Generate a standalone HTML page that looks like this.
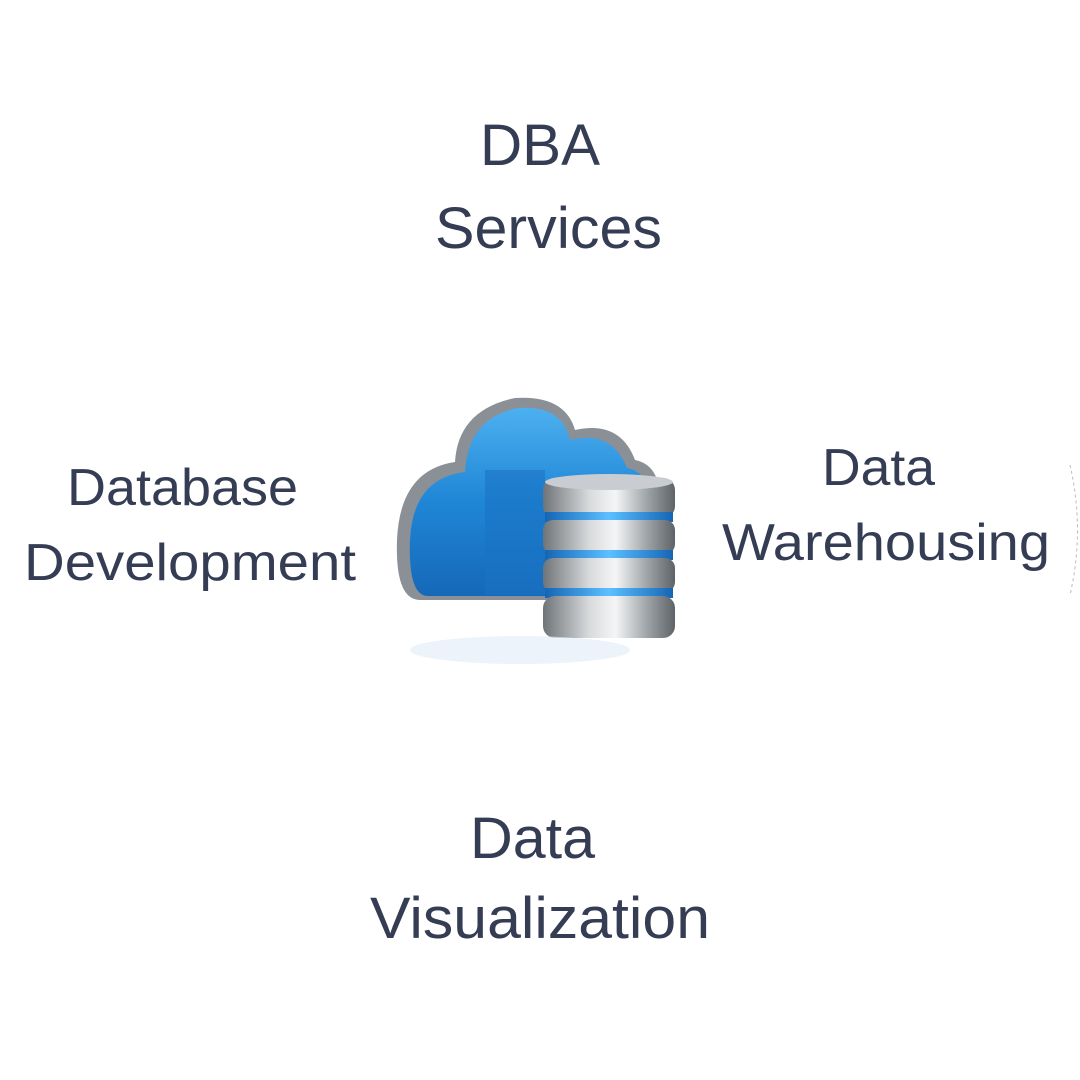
<!DOCTYPE html>
<html><head><meta charset="utf-8"><style>
html,body{margin:0;padding:0;background:#fff;}
svg{display:block}
text{font-family:"Liberation Sans",sans-serif;fill:#353d55;}
</style></head><body>
<svg width="1080" height="1080" viewBox="0 0 1080 1080" xmlns="http://www.w3.org/2000/svg">
<defs>
<linearGradient id="blue" x1="0" y1="0" x2="0" y2="1">
<stop offset="0" stop-color="#4db0f0"/><stop offset="0.5" stop-color="#1f86d6"/><stop offset="1" stop-color="#1668b8"/></linearGradient>
<linearGradient id="steel" x1="0" y1="0" x2="1" y2="0">
<stop offset="0" stop-color="#6f7478"/><stop offset="0.35" stop-color="#d8dadc"/><stop offset="0.55" stop-color="#f4f5f6"/><stop offset="0.8" stop-color="#9aa0a4"/><stop offset="1" stop-color="#5e6367"/></linearGradient>
<linearGradient id="band" x1="0" y1="0" x2="1" y2="0">
<stop offset="0" stop-color="#1565b5"/><stop offset="0.5" stop-color="#5cc0ff"/><stop offset="1" stop-color="#1565b5"/></linearGradient>
</defs>
<rect width="1080" height="1080" fill="#fff"/>
<path d="M1070 465 Q1085 530 1070 595" fill="none" stroke="#bbb" stroke-width="1" stroke-dasharray="3 3"/>
<g>
<path d="M420 600 Q395 600 397 540 Q400 470 455 462 Q458 410 515 398 Q565 395 575 430 Q620 420 635 460 Q660 465 660 500 L660 600 Z" fill="#8a9096"/>
<path d="M428 596 Q408 596 410 540 Q413 478 465 472 Q468 418 518 408 Q562 405 570 440 Q612 430 627 468 Q650 472 650 505 L650 596 Z" fill="url(#blue)"/>
<rect x="485" y="470" width="60" height="125" fill="#1a73c4" opacity="0.6"/>
</g>
<g>
<rect x="543" y="478" width="132" height="40" rx="12" fill="url(#steel)"/>
<rect x="545" y="512" width="128" height="10" fill="url(#band)"/>
<rect x="543" y="520" width="132" height="34" rx="10" fill="url(#steel)"/>
<rect x="545" y="550" width="128" height="10" fill="url(#band)"/>
<rect x="543" y="558" width="132" height="34" rx="10" fill="url(#steel)"/>
<rect x="545" y="588" width="128" height="10" fill="url(#band)"/>
<rect x="543" y="596" width="132" height="42" rx="12" fill="url(#steel)"/>
<ellipse cx="609" cy="482" rx="64" ry="8" fill="#c9ccd0"/>
</g>
<ellipse cx="520" cy="650" rx="110" ry="14" fill="#e4eef8" opacity="0.7"/>
<text x="480" y="165" font-size="58" textLength="120" lengthAdjust="spacingAndGlyphs">DBA</text>
<text x="435" y="248" font-size="58" textLength="227" lengthAdjust="spacingAndGlyphs">Services</text>
<text x="67" y="505" font-size="52" textLength="231" lengthAdjust="spacingAndGlyphs">Database</text>
<text x="24" y="580" font-size="52" textLength="332" lengthAdjust="spacingAndGlyphs">Development</text>
<text x="822" y="485" font-size="52" textLength="113" lengthAdjust="spacingAndGlyphs">Data</text>
<text x="722" y="560" font-size="52" textLength="328" lengthAdjust="spacingAndGlyphs">Warehousing</text>
<text x="470" y="858" font-size="58" textLength="125" lengthAdjust="spacingAndGlyphs">Data</text>
<text x="370" y="938" font-size="58" textLength="340" lengthAdjust="spacingAndGlyphs">Visualization</text>
</svg>
</body></html>
